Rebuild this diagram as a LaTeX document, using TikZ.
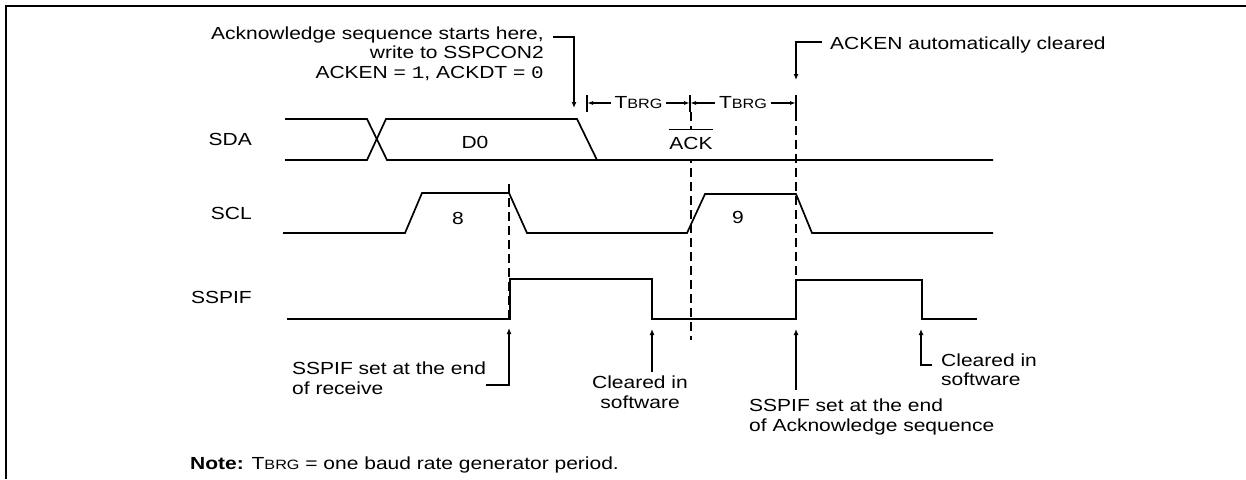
\documentclass[tikz,border=0pt]{standalone}
\usepackage{fontspec}
\setmainfont{Liberation Sans}[FakeStretch=1.2]
\newfontfamily\monof{Liberation Mono}[FakeStretch=1.2]
\usetikzlibrary{arrows.meta}
\newcommand\tbrg{T{\fontsize{13.5}{15}\selectfont BRG}}
\begin{document}
\begin{tikzpicture}[x=1pt,y=-1pt,
  txt/.style={font=\fontsize{17.5}{20}\selectfont, inner sep=0pt},
  sig/.style={line width=1.7pt, line join=miter},
  dsh/.style={line width=1.9pt, dash pattern=on 9pt off 5pt},
  arr/.style={line width=1.4pt, -{Latex[length=6pt,width=5pt]}},
  dimarr/.style={line width=1.4pt, {Latex[length=6pt,width=4pt]}-{Latex[length=6pt,width=4pt]}},
  tick/.style={line width=1.6pt}
]
\useasboundingbox (0,0) rectangle (1246,479);
% frame
\draw[line width=2pt] (6,479) -- (6,6) -- (1246,6);

% signal labels
\node[txt, anchor=base east] (lsda) at (252,145) {SDA};
\node[txt, anchor=base east] (lscl) at (252,219) {SCL};
\node[txt, anchor=base east] (lsspif) at (252,303) {SSPIF};

% dashed guide lines
\draw[dsh] (509,184) -- (509,320);
\draw[dsh] (691,112) -- (691,340);
\draw[dsh] (796,112) -- (796,280);

% ACK label covering dashed line
\node[txt, fill=white, inner xsep=0.5pt, minimum height=30pt] (ack) at (691,143.5) {ACK};
\draw[line width=1.3pt] ([yshift=-1pt]ack.north west) -- ([yshift=-1pt]ack.north east);

% signals
\draw[sig] (285,119) -- (367,119) -- (387,160) -- (993,160);
\draw[sig] (285,160) -- (367,160) -- (386,119) -- (577,119) -- (597,160);
\draw[sig] (283,233) -- (405,233) -- (422,193) -- (509,193) -- (527,233) -- (687,233) -- (705,194) -- (796,194) -- (812,233) -- (993,233);
\draw[sig] (287,319) -- (510,319) -- (510,279) -- (652,279) -- (652,319) -- (796,319) -- (796,280) -- (922,280) -- (922,319) -- (977,319);

\node[txt] (d0) at (475,142) {D0};
\node[txt] (b8) at (458,218) {8};
\node[txt] (b9) at (738,217) {9};

% TBRG dimensions
\coordinate (t1) at (587,103);
\coordinate (t2) at (690,103);
\coordinate (t3) at (796,103);
\draw[tick] (t1) ++(0,-8) -- ++(0,17);
\draw[tick] (t2) ++(0,-8) -- ++(0,17);
\draw[tick] (t3) ++(0,-8) -- ++(0,17);
\draw[dimarr] (t1) -- (t2) node[midway, txt, fill=white, inner xsep=4pt, inner ysep=2pt] (tb1) {\tbrg};
\draw[dimarr] (t2) -- (t3) node[midway, txt, fill=white, inner xsep=4pt, inner ysep=2pt] (tb2) {\tbrg};

% acknowledge annotation
\node[txt, anchor=base east] (ack1) at (544,39) {Acknowledge sequence starts here,};
\node[txt, anchor=base east] (ack2) at (544,58) {write to SSPCON2};
\node[txt, anchor=base east] (ack3) at (544,78) {ACKEN = {\monof 1}, ACKDT = {\monof 0}};
\coordinate (ackc) at (574,37);
\coordinate (ackt) at (574,108);
\draw[arr] ([xshift=9pt,yshift=2pt]ack1.base east) -- (ackc) -- (ackt);

% ACKEN cleared
\node[txt, anchor=base west] (ackcl) at (830,49) {ACKEN automatically cleared};
\coordinate (ackclc) at (796,42);
\coordinate (ackclt) at (796,80);
\draw[arr] ([xshift=-8pt]ackcl.west |- ackclc) -- (ackclc) -- (ackclt);

% SSPIF set at end of receive
\node[txt, anchor=base west] (rc1) at (292,374) {SSPIF set at the end};
\node[txt, anchor=base west] (rc2) at (292,394) {of receive};
\coordinate (rcc) at (509,385);
\coordinate (rct) at (509,328);
\draw[arr] (rc1.east |- rcc) -- (rcc) -- (rct);

% cleared in software 1
\node[txt, anchor=base] (cl1a) at (640,388) {Cleared in};
\node[txt, anchor=base] (cl1b) at (640,408) {software};
\coordinate (cl1s) at (652,372);
\coordinate (cl1t) at (652,329);
\draw[arr] (cl1s) -- (cl1t);

% SSPIF set at end of ack sequence
\node[txt, anchor=base west] (ae1) at (749,411) {SSPIF set at the end};
\node[txt, anchor=base west] (ae2) at (749,431) {of Acknowledge sequence};
\coordinate (aes) at (796,390);
\coordinate (aet) at (796,329);
\draw[arr] (aes) -- (aet);

% cleared in software 2
\node[txt, anchor=base west] (cl2a) at (941,366) {Cleared in};
\node[txt, anchor=base west] (cl2b) at (941,385) {software};
\coordinate (cl2c) at (921,365);
\coordinate (cl2t) at (921,329);
\draw[arr] ([xshift=-9pt]cl2a.west |- cl2c) -- (cl2c) -- (cl2t);

% note
\node[txt, anchor=base west] (note) at (190,469) {\textbf{Note:} \tbrg{} = one baud rate generator period.};
\end{tikzpicture}
\end{document}
